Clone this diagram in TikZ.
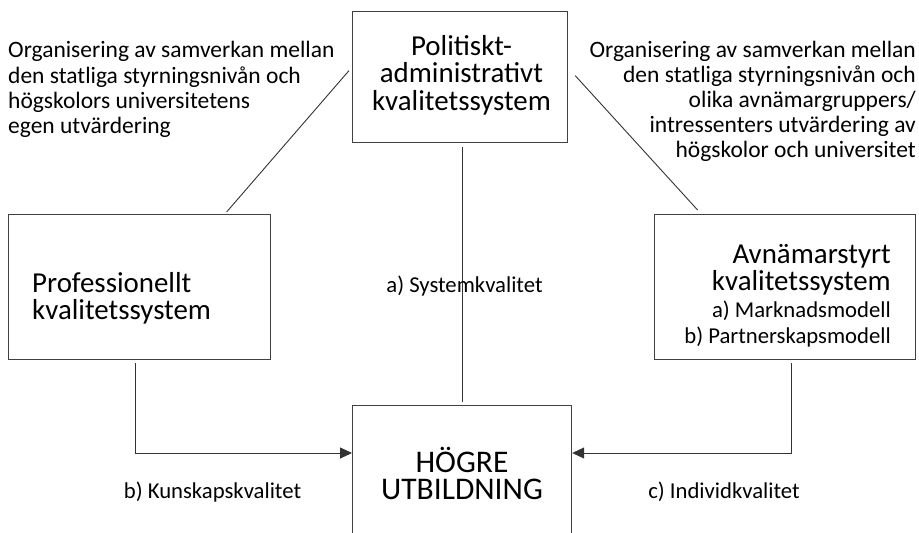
\documentclass[tikz,border=0pt]{standalone}
\usepackage{fontspec}
\setmainfont{Carlito}
\usetikzlibrary{arrows.meta}
\begin{document}
\begin{tikzpicture}[x=1pt,y=-1pt,
  box/.style={draw=black!75, line width=1.2pt, inner sep=0pt, anchor=north west},
  conn/.style={draw=black!80, line width=0.9pt},
  arr/.style={conn, -{Triangle[length=12pt,width=11pt]}},
  big/.style={font=\fontsize{28.9}{27}\selectfont, inner sep=0pt},
  huge/.style={font=\fontsize{31.5}{27}\selectfont, inner sep=0pt},
  desc/.style={font=\fontsize{23.5}{25}\selectfont, inner sep=0pt},
  small/.style={font=\fontsize{22.7}{25}\selectfont, inner sep=0pt},
]
\useasboundingbox (0,0) rectangle (919,533);
\clip (0,0) rectangle (919,533);

% boxes
\node[box, minimum width=215pt, minimum height=131pt] (pol) at (352,11) {};
\node[box, minimum width=262pt, minimum height=145pt] (prof) at (8,214) {};
\node[box, minimum width=261pt, minimum height=145pt] (avn) at (654,214) {};
\node[box, minimum width=219pt, minimum height=200pt] (hu) at (352,405) {};

% box texts
\node[big, anchor=base] (pol1) at (461.5,55) {Politiskt-};
\node[big, anchor=base] (pol2) at (461.5,82.5) {administrativt};
\node[big, anchor=base] (pol3) at (461.5,110) {kvalitetssystem};

\node[big, anchor=base west] (prof1) at (32,292) {Professionellt};
\node[big, anchor=base west] (prof2) at (32,319) {kvalitetssystem};

\node[big, anchor=base east] (avn1) at (891,263.5) {Avnämarstyrt};
\node[big, anchor=base east] (avn2) at (891,290.5) {kvalitetssystem};
\node[small, anchor=base east] (avn3) at (891,317) {a) Marknadsmodell};
\node[small, anchor=base east] (avn4) at (891,343.5) {b) Partnerskapsmodell};

\node[huge, anchor=base, align=center] (hutext) at (462,499) {HÖGRE\\UTBILDNING};

% descriptions
\node[desc, anchor=base west] (dl1) at (8,57) {Organisering av samverkan mellan};
\node[desc, anchor=base west] (dl2) at (8,83) {den statliga styrningsnivån och};
\node[desc, anchor=base west] (dl3) at (8,108) {högskolors universitetens};
\node[desc, anchor=base west] (dl4) at (8,133) {egen utvärdering};

\node[desc, anchor=base east] (dr1) at (916,57) {Organisering av samverkan mellan};
\node[desc, anchor=base east] (dr2) at (916,82) {den statliga styrningsnivån och};
\node[desc, anchor=base east] (dr3) at (916,107) {olika avnämargruppers/};
\node[desc, anchor=base east] (dr4) at (916,132) {intressenters utvärdering av};
\node[desc, anchor=base east] (dr5) at (916,157) {högskolor och universitet};

% connectors
\draw[conn] ([xshift=-3pt,yshift=6.5pt]pol.west) -- ([xshift=87pt,yshift=2pt]prof.north);
\draw[conn] ([xshift=7pt,yshift=1.5pt]pol.east) -- ([xshift=-87.5pt,yshift=4pt]avn.north);
\draw[conn] ([yshift=3pt]hu.north) -- ([yshift=-4pt]hu.north |- pol.south);
\draw[arr] ([xshift=-4pt,yshift=-3pt]prof.south) |- ([yshift=-48pt]hu.north west);
\draw[arr] ([xshift=6.5pt,yshift=-3pt]avn.south) |- ([yshift=-48pt]hu.north east);

% labels
\node[small, anchor=base] (la) at (464.5,292) {a) Systemkvalitet};
\node[small, anchor=base] (lb) at (212.5,498) {b) Kunskapskvalitet};
\node[small, anchor=base] (lc) at (724,498) {c) Individkvalitet};
\end{tikzpicture}
\end{document}
